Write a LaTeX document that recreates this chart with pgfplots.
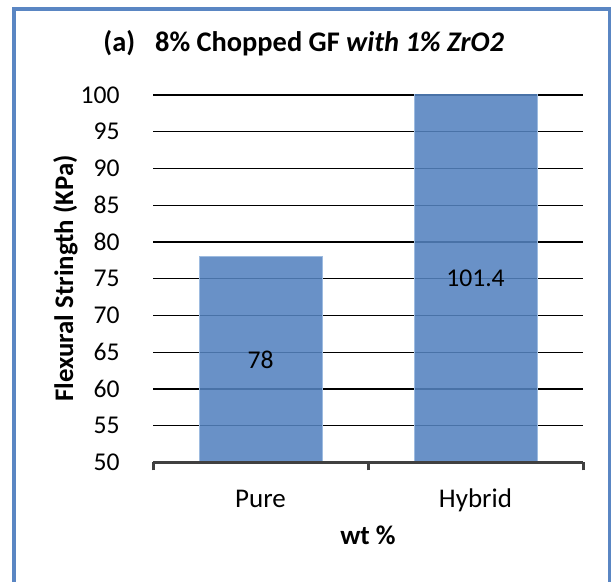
\documentclass[border=0pt]{standalone}
\usepackage{pgfplots}
\pgfplotsset{compat=1.18}
\usepackage{fontspec}
\setmainfont{Carlito}
\definecolor{barfill}{HTML}{5482BF}
\definecolor{baredge}{HTML}{9DBBE0}
\definecolor{frameblue}{HTML}{5A86C3}
\definecolor{axgray}{HTML}{404040}
\begin{document}
\begin{tikzpicture}[x=0.5pt,y=0.5pt]
\useasboundingbox (0,0) rectangle (611,582);
\draw[frameblue, line width=2pt] (14,-10) -- (14,573) -- (610,573) -- (610,-10);
\coordinate (A) at (153,119.5);
\begin{axis}[
  at={(A)}, anchor=south west,
  scale only axis, width=215pt, height=183.75pt,
  xmin=-0.5, xmax=1.5, ymin=50, ymax=100,
  axis x line*=bottom, axis y line*=left,
  x axis line style={draw=none}, y axis line style={draw=none},
  ytick={50,55,...,100},
  ytick style={draw=none},
  ymajorgrids, grid style={black, line width=0.6pt},
  xtick={-0.5,0.5,1.5}, x tick label as interval, xticklabels={Pure,Hybrid},
  xtick style={draw=axgray, line width=1.5pt},
  major tick length=4pt, tick align=outside,
  /pgf/number format/assume math mode=true,
  yticklabel style={font=\fontsize{12.8}{15}\selectfont, anchor=east, inner sep=0pt, xshift=-12.5pt},
  xticklabel style={font=\fontsize{13.5}{15}\selectfont, anchor=base, inner sep=0pt, yshift=-18.5pt},
]
\addplot[ybar, bar width=61.5pt, fill=barfill, fill opacity=0.88, draw=baredge, line width=0.4pt] coordinates {(0,78) (1,101.4)};
\addplot[only marks, mark=none, nodes near coords, point meta=explicit symbolic,
  every node near coord/.append style={anchor=center, font=\fontsize{12.8}{15}\selectfont, text=black, inner sep=0pt}]
  table[meta=label, row sep=\\] {x y label\\ 0 64 78\\ 1 75 101.4\\};
\coordinate (axl) at (rel axis cs:0,0);
\coordinate (axr) at (rel axis cs:1,0);
\end{axis}
\draw[axgray, line width=1.5pt] (axl) -- (axr);
\node[anchor=base west, font=\bfseries\fontsize{14.2}{17}\selectfont, inner sep=0pt] at (103,530) {(a)\hspace{10pt}8\% Chopped GF \textit{with 1\% ZrO2}};
\node[anchor=base, font=\bfseries\fontsize{13.5}{15}\selectfont, inner sep=0pt] at (368,37) {wt \%};
\node[anchor=base, rotate=90, font=\bfseries\fontsize{13.4}{15}\selectfont, inner sep=0pt] at (73,303.5) {Flexural Stringth (KPa)};
\end{tikzpicture}
\end{document}
